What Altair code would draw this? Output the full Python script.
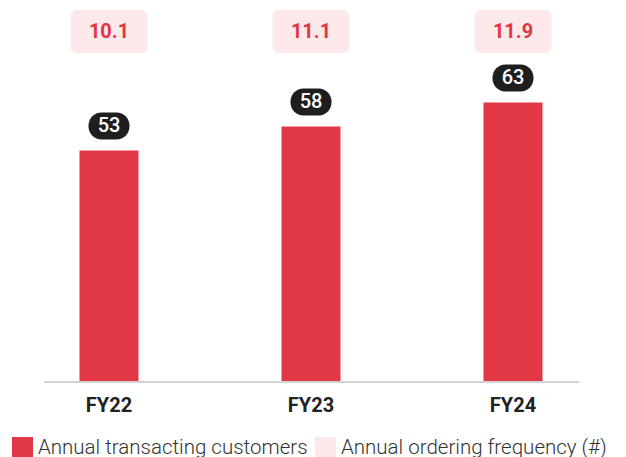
import altair as alt
import pandas as pd

years = ["FY22", "FY23", "FY24"]
customers = [53, 58, 63]
frequency = [10.1, 11.1, 11.9]
series = ["Annual transacting customers", "Annual ordering frequency (#)"]
y_floor = 5

RED = "#E23744"
PINK = "#FDE8EA"

df = pd.DataFrame({
    "year": years,
    "customers": customers,
    "frequency": frequency,
    "s1": [series[0]] * 3,
    "s2": [series[1]] * 3,
})

H = 373
x = alt.X("year:N", sort=years,
          scale=alt.Scale(paddingInner=0, paddingOuter=0),
          axis=alt.Axis(title=None, domain=False, ticks=False, labelAngle=0,
                        labelFont="Roboto", labelFontSize=20, labelFontWeight="bold",
                        labelColor="#222222", labelPadding=14))
yscale = alt.Scale(domain=[y_floor, 82.7], nice=False, zero=False)
color = alt.Color("s:N", scale=alt.Scale(domain=series, range=[RED, PINK]),
                  legend=alt.Legend(title=None, orient="none", legendX=4, legendY=429,
                                    direction="horizontal", symbolType="square",
                                    symbolSize=441, symbolStrokeWidth=0,
                                    labelFont="Roboto", labelFontSize=20.5,
                                    labelFontWeight=300, labelColor="#333333",
                                    labelOffset=5, columnPadding=7, padding=0,
                                    labelLimit=0, symbolOpacity=1))

base = alt.Chart(df)

bars = base.transform_calculate(s="datum.s1").mark_bar(size=59, color=RED).encode(
    x=x,
    y=alt.Y("customers:Q", scale=yscale, axis=None),
    y2=alt.datum(y_floor),
    color=color,
)

boxes = base.transform_calculate(s="datum.s2").mark_bar(size=77, cornerRadius=6).encode(
    x=x,
    y=alt.value(2),
    y2=alt.value(45),
    color=color,
)

box_text = base.mark_text(font="Roboto", fontSize=20, fontWeight="bold", color=RED,
                          baseline="middle").encode(
    x=x,
    y=alt.value(23.5),
    text=alt.Text("frequency:Q", format=".1f"),
)

pills = base.mark_bar(size=41, cornerRadius=13, color="#1E1E1E",
                      yOffset=-38, y2Offset=-11).encode(
    x=x,
    y=alt.Y("customers:Q", scale=yscale, axis=None),
    y2=alt.Y2("customers:Q"),
)

pill_text = base.mark_text(font="Roboto", fontSize=20, fontWeight=500, color="white",
                           baseline="middle", dy=-24.5).encode(
    x=x,
    y=alt.Y("customers:Q", scale=yscale, axis=None),
    text="customers:Q",
)

baseline = alt.Chart(pd.DataFrame({"a": [0]})).mark_rule(color="#D3D3D3", strokeWidth=2).encode(
    x=alt.value(36), x2=alt.value(571), y=alt.value(H + 1)
)

chart = alt.layer(bars, boxes, box_text, pills, pill_text, baseline).properties(
    width=606, height=H,
    padding={"left": 0, "top": 0, "right": 0, "bottom": 0},
).configure_view(stroke=None)

chart.save("out.html", embed_options={"renderer": "svg", "actions": False})
